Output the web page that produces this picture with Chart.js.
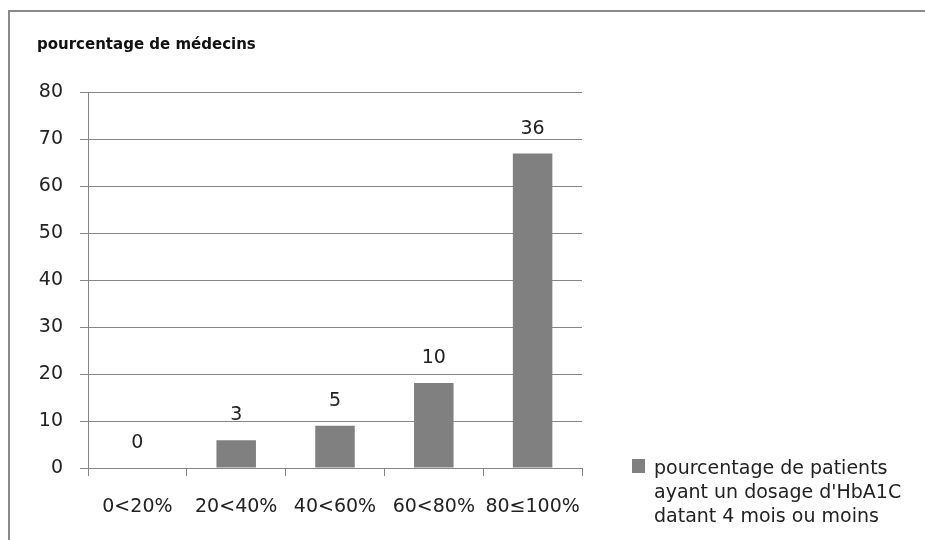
<!DOCTYPE html>
<html>
<head>
<meta charset="utf-8">
<script src="https://cdn.jsdelivr.net/npm/chart.js@4"></script>
<style>
  body { margin: 0; background: #fff; }
  #wrap { position: relative; width: 925px; height: 540px; }
  #frame { position: absolute; left: 8px; top: 10px; width: 925px; height: 540px;
           border-left: 2px solid #8a8a8a; border-top: 2px solid #8a8a8a; pointer-events: none; }
  #legend { position: absolute; left: 632px; top: 455px; font-family: "DejaVu Sans", sans-serif;
            font-size: 19px; line-height: 24px; color: #222; white-space: nowrap; }
  #legend span.box { position: absolute; left: 0; top: 4px; width: 13px; height: 14px; background: #808080; }
  #legend div.txt { margin-left: 22px; }
</style>
</head>
<body>
<div id="wrap">
  <canvas id="myChart" width="925" height="540"></canvas>
  <div id="frame"></div>
  <div id="legend"><span class="box"></span><div class="txt" id="legendText"></div></div>
</div>
<script>
// categories, bar heights (percentage of doctors) and the counts printed over the bars
var categories = ["0<20%", "20<40%", "40<60%", "60<80%", "80\u2264100%"];
var percentages = [0, 5.9, 9.0, 18.1, 66.9];
var counts = [0, 3, 5, 10, 36];
var yTicks = [0, 10, 20, 30, 40, 50, 60, 70, 80];
var seriesName = ["pourcentage de patients", "ayant un dosage d'HbA1C", "datant 4 mois ou moins"];

document.getElementById("legendText").innerHTML = seriesName.join("<br>");

var grey = "#868686";
var font = "'DejaVu Sans', sans-serif";

// numbers over each bar
var countLabels = {
  id: "countLabels",
  afterDatasetsDraw(chart) {
    var ctx = chart.ctx;
    var meta = chart.getDatasetMeta(0);
    ctx.save();
    ctx.font = "19px " + font;
    ctx.fillStyle = "#222";
    ctx.textAlign = "center";
    ctx.textBaseline = "middle";
    meta.data.forEach(function (bar, i) {
      ctx.fillText(String(counts[i]), bar.x, bar.y - 25);
    });
    ctx.restore();
  }
};

new Chart("myChart", {
  type: "bar",
  data: {
    labels: categories,
    datasets: [{
      label: seriesName.join(" "),
      data: percentages,
      backgroundColor: "#808080",
      barPercentage: 0.4,
      categoryPercentage: 1
    }]
  },
  plugins: [countLabels],
  options: {
    responsive: false,
    animation: false,
    layout: { padding: { left: 37, right: 343, top: 36, bottom: 0 } },
    plugins: {
      legend: { display: false },
      tooltip: { enabled: false },
      title: {
        display: true,
        text: "pourcentage de médecins",
        align: "start",
        color: "#111",
        font: { family: font, size: 15, weight: "bold" },
        padding: { top: 0, bottom: 38 }
      }
    },
    scales: {
      y: {
        min: 0, max: 80,
        afterBuildTicks(s) { s.ticks = yTicks.map(function (v) { return { value: v }; }); },
        afterFit(s) { s.width = 51; },
        grid: { color: grey, tickLength: 8 },
        border: { color: grey },
        ticks: { color: "#222", padding: 17, font: { family: font, size: 19 } }
      },
      x: {
        afterFit(s) { s.height = 72; },
        grid: { color: grey, drawOnChartArea: false, tickLength: 8 },
        border: { color: grey },
        ticks: { color: "#222", padding: 20, maxRotation: 0, minRotation: 0, autoSkip: false,
                 font: { family: font, size: 19 } }
      }
    }
  }
});
</script>
</body>
</html>
